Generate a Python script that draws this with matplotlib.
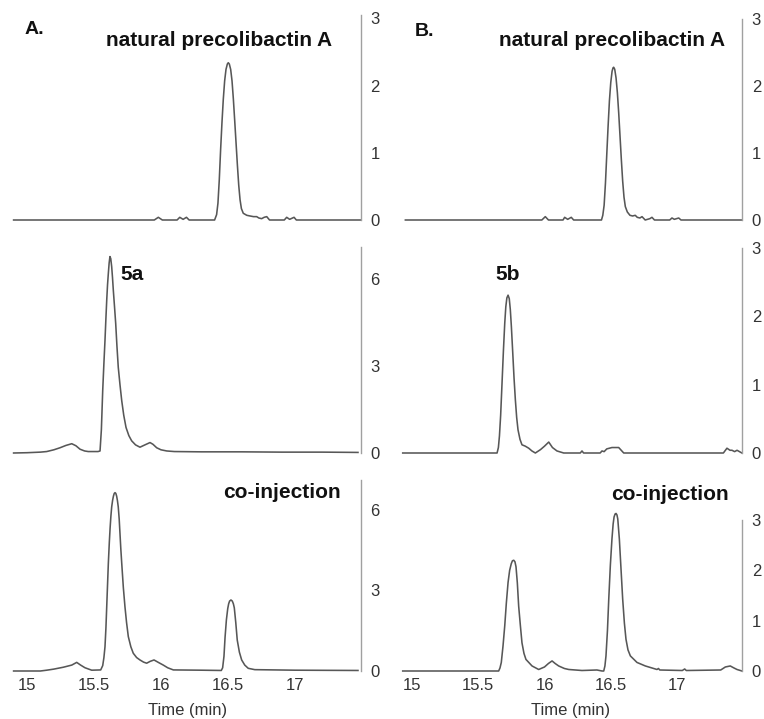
import matplotlib
matplotlib.use("Agg")
import matplotlib.pyplot as plt

plt.rcParams['font.family'] = ['Liberation Sans', 'DejaVu Sans']

# ---------------- data (time in min, signal) ----------------
t_A1 = [14.90, 15.90, 15.95, 15.98, 16.01, 16.12, 16.14, 16.165, 16.19, 16.21, 16.40, 16.415,
        16.425, 16.435, 16.445, 16.455, 16.465, 16.475, 16.485, 16.495, 16.502, 16.51, 16.52,
        16.53, 16.54, 16.55, 16.56, 16.57, 16.58, 16.59, 16.60, 16.614, 16.64, 16.664, 16.69,
        16.714, 16.73, 16.751, 16.77, 16.789, 16.81, 16.92, 16.938, 16.96, 16.993, 17.01, 17.49]
v_A1 = [0.0, 0.0, 0.0, 0.04, 0.0, 0.0, 0.04, 0.01, 0.04, 0.0, 0.0, 0.08,
        0.25, 0.6, 1.05, 1.45, 1.8, 2.07, 2.24, 2.32, 2.34, 2.32, 2.24,
        2.07, 1.8, 1.48, 1.15, 0.82, 0.52, 0.3, 0.17, 0.10, 0.07, 0.06, 0.05,
        0.05, 0.03, 0.02, 0.04, 0.05, 0.0, 0.0, 0.04, 0.01, 0.04, 0.0, 0.0]

t_B1 = [14.95, 15.98, 16.006, 16.03, 16.14, 16.152, 16.175, 16.202, 16.22, 16.43, 16.44,
        16.45, 16.46, 16.47, 16.48, 16.49, 16.50, 16.51, 16.517, 16.522, 16.53, 16.54, 16.55,
        16.56, 16.57, 16.58, 16.59, 16.60, 16.61, 16.625, 16.645, 16.665, 16.685, 16.70, 16.72,
        16.736, 16.76, 16.795, 16.811, 16.83, 16.945, 16.962, 16.98, 17.013, 17.03, 17.49]
v_B1 = [0.0, 0.0, 0.05, 0.0, 0.0, 0.04, 0.01, 0.04, 0.0, 0.0, 0.07,
        0.22, 0.55, 0.98, 1.4, 1.78, 2.05, 2.22, 2.27, 2.28, 2.25, 2.12, 1.9,
        1.6, 1.25, 0.9, 0.58, 0.34, 0.2, 0.12, 0.07, 0.06, 0.07, 0.04, 0.03,
        0.05, 0.0, 0.02, 0.04, 0.0, 0.0, 0.03, 0.01, 0.03, 0.0, 0.0]

t_A2 = [14.90, 15.00, 15.10, 15.147, 15.20, 15.246, 15.29, 15.334, 15.365, 15.396, 15.43,
        15.457, 15.50, 15.53, 15.545, 15.555, 15.565, 15.574, 15.582, 15.589, 15.595, 15.601,
        15.607, 15.613, 15.619, 15.625, 15.632, 15.638, 15.644, 15.653, 15.662, 15.671, 15.681,
        15.694, 15.707, 15.722, 15.739, 15.76, 15.781, 15.81, 15.843, 15.88, 15.918, 15.94,
        15.968, 16.0, 16.043, 16.10, 16.3, 16.6, 16.9, 17.2, 17.47]
v_A2 = [0.0, 0.01, 0.03, 0.05, 0.11, 0.18, 0.26, 0.32, 0.25, 0.13, 0.07,
        0.05, 0.05, 0.05, 0.07, 0.8, 2.15, 3.1, 3.88, 4.65, 5.27, 5.8,
        6.19, 6.55, 6.77, 6.7, 6.42, 6.05, 5.62, 5.05, 4.46, 3.7, 2.96,
        2.35, 1.80, 1.3, 0.88, 0.6, 0.42, 0.28, 0.2, 0.28, 0.36, 0.3,
        0.18, 0.11, 0.07, 0.05, 0.04, 0.04, 0.03, 0.03, 0.02]

t_B2 = [14.93, 15.63, 15.642, 15.652, 15.66, 15.669, 15.679, 15.69, 15.70, 15.708, 15.716,
        15.725, 15.734, 15.742, 15.75, 15.76, 15.77, 15.78, 15.79, 15.80, 15.815, 15.83,
        15.855, 15.881, 15.905, 15.931, 15.97, 16.0, 16.032, 16.06, 16.094, 16.145, 16.27,
        16.283, 16.295, 16.42, 16.434, 16.45, 16.47, 16.509, 16.56, 16.598, 17.35, 17.377,
        17.40, 17.415, 17.435, 17.453, 17.49]
v_B2 = [0.0, 0.0, 0.0, 0.08, 0.25, 0.55, 1.0, 1.5, 1.9, 2.14, 2.27,
        2.31, 2.26, 2.1, 1.85, 1.48, 1.1, 0.78, 0.52, 0.34, 0.2, 0.12,
        0.1, 0.07, 0.03, 0.0, 0.05, 0.1, 0.16, 0.08, 0.03, 0.0, 0.0,
        0.03, 0.0, 0.0, 0.03, 0.02, 0.06, 0.08, 0.08, 0.0, 0.0, 0.07,
        0.04, 0.04, 0.02, 0.04, 0.0]

t_A3 = [14.90, 15.10, 15.147, 15.20, 15.271, 15.334, 15.371, 15.40, 15.433, 15.483, 15.55,
        15.565, 15.574, 15.582, 15.589, 15.595, 15.601, 15.607, 15.614, 15.62, 15.626, 15.632,
        15.639, 15.645, 15.651, 15.657, 15.663, 15.669, 15.675, 15.681, 15.688, 15.694, 15.70,
        15.707, 15.719, 15.731, 15.743, 15.756, 15.775, 15.793, 15.818, 15.843, 15.87, 15.893,
        15.92, 15.948, 15.98, 16.017, 16.05, 16.092, 16.30, 16.45, 16.46, 16.47, 16.478,
        16.488, 16.498, 16.505, 16.512, 16.522, 16.532, 16.54, 16.547, 16.558, 16.569, 16.585,
        16.602, 16.625, 16.651, 16.70, 17.0, 17.47]
v_A3 = [0.0, 0.0, 0.03, 0.07, 0.14, 0.22, 0.32, 0.22, 0.12, 0.03, 0.04,
        0.2, 0.5, 0.9, 1.6, 2.4, 3.2, 4.0, 4.75, 5.3, 5.75, 6.1,
        6.35, 6.5, 6.6, 6.63, 6.6, 6.5, 6.33, 6.1, 5.65, 5.1, 4.55,
        4.0, 3.1, 2.39, 1.8, 1.28, 0.9, 0.66, 0.5, 0.41, 0.33, 0.29,
        0.36, 0.41, 0.32, 0.22, 0.12, 0.04, 0.03, 0.02, 0.12, 0.55, 1.25,
        1.9, 2.32, 2.5, 2.6, 2.64, 2.6, 2.5, 2.35, 1.8, 1.15, 0.7,
        0.41, 0.22, 0.1, 0.05, 0.03, 0.02]

t_B3 = [14.93, 15.64, 15.654, 15.664, 15.674, 15.687, 15.70, 15.712, 15.725, 15.737, 15.749,
        15.758, 15.768, 15.777, 15.785, 15.795, 15.805, 15.818, 15.83, 15.845, 15.86, 15.906,
        15.956, 16.0, 16.03, 16.057, 16.08, 16.107, 16.15, 16.183, 16.283, 16.396, 16.434,
        16.447, 16.456, 16.464, 16.475, 16.485, 16.497, 16.509, 16.518, 16.525, 16.533, 16.540,
        16.547, 16.553, 16.565, 16.578, 16.59, 16.603, 16.615, 16.63, 16.648, 16.698, 16.761,
        16.849, 16.86, 16.87, 17.04, 17.058, 17.07, 17.33, 17.365, 17.402, 17.43, 17.453, 17.49]
v_B3 = [0.0, 0.0, 0.0, 0.06, 0.17, 0.5, 0.9, 1.35, 1.76, 2.0, 2.13,
        2.19, 2.2, 2.17, 2.07, 1.75, 1.29, 0.9, 0.56, 0.35, 0.23, 0.1,
        0.03, 0.08, 0.15, 0.2, 0.15, 0.1, 0.05, 0.03, 0.01, 0.02, 0.0,
        0.0, 0.1, 0.3, 0.8, 1.43, 2.1, 2.62, 2.92, 3.06, 3.12, 3.13,
        3.1, 3.02, 2.62, 2.0, 1.43, 0.95, 0.63, 0.42, 0.3, 0.17, 0.1,
        0.03, 0.05, 0.02, 0.01, 0.04, 0.01, 0.02, 0.08, 0.1, 0.06, 0.03, 0.0]

x_ticks = [15, 15.5, 16, 16.5, 17]
x_tick_labels = ["15", "15.5", "16", "16.5", "17"]
panel_letters = ["A.", "B."]
top_labels = ["natural precolibactin A", "natural precolibactin A"]
mid_labels = ["5a", "5b"]
bottom_label = "co-injection"
x_label = "Time (min)"

# ---------------- layout ----------------
W, H = 764, 719
fig = plt.figure(figsize=(W / 100, H / 100), dpi=100)

LINE_C = "#575757"
SPINE_C = "#a0a0a0"
TEXT_C = "#333333"


def add_ax(left, right, top, bottom):
    return fig.add_axes([left / W, 1 - bottom / H, (right - left) / W, (bottom - top) / H])


def style(ax, t, v, ylim, yticks, bottom_row):
    ax.plot(t, v, color=LINE_C, lw=1.15, clip_on=False, solid_joinstyle="round")
    ax.set_xlim(14.9, 17.49)
    ax.set_ylim(*ylim)
    for s in ["top", "left", "bottom"]:
        ax.spines[s].set_visible(False)
    ax.spines["right"].set_color(SPINE_C)
    ax.spines["right"].set_linewidth(1.0)
    ax.yaxis.tick_right()
    ax.set_yticks(yticks)
    ax.set_yticklabels([str(y) for y in yticks])
    ax.tick_params(axis="y", length=0, pad=7, labelsize=12, labelcolor=TEXT_C)
    ax.patch.set_visible(False)
    if bottom_row:
        ax.set_xticks(x_ticks)
        ax.set_xticklabels(x_tick_labels)
        ax.tick_params(axis="x", length=0, pad=5, labelsize=12, labelcolor=TEXT_C)
        ax.set_xlabel(x_label, fontsize=12, color=TEXT_C, labelpad=7)
    else:
        ax.set_xticks([])


# column A (15 min -> px 27, 134 px/min), column B (15 -> 412, 132.5 px/min)
axA = dict(left=27 - 0.1 * 134, right=27 + 2.49 * 134)
axB = dict(left=412 - 0.1 * 132.5, right=412 + 2.49 * 132.5)

a1 = add_ax(axA["left"], axA["right"], 15, 220)
style(a1, t_A1, v_A1, (0, 3.05), [0, 1, 2, 3], False)
b1 = add_ax(axB["left"], axB["right"], 19, 220)
style(b1, t_B1, v_B1, (0, 3.0), [0, 1, 2, 3], False)

a2 = add_ax(axA["left"], axA["right"], 247, 453)
style(a2, t_A2, v_A2, (0, 7.1), [0, 3, 6], False)
b2 = add_ax(axB["left"], axB["right"], 248, 453)
style(b2, t_B2, v_B2, (0, 3.0), [0, 1, 2, 3], False)

a3 = add_ax(axA["left"], axA["right"], 480, 671)
style(a3, t_A3, v_A3, (0, 7.1), [0, 3, 6], True)
b3 = add_ax(axB["left"], axB["right"], 520, 671)
style(b3, t_B3, v_B3, (0, 3.0), [0, 1, 2, 3], True)


def ftext(x, y, s, ha="center", size=15, weight="bold"):
    fig.text(x / W, 1 - y / H, s, ha=ha, va="center", fontsize=size,
             fontweight=weight, color="#111111")


ftext(25, 30, panel_letters[0], ha="left", size=14)
ftext(415, 32, panel_letters[1], ha="left", size=14)
ftext(219, 40, top_labels[0])
ftext(612, 40, top_labels[1])
ftext(120, 275, mid_labels[0], ha="left")
ftext(508, 275, mid_labels[1])
ftext(282, 493, bottom_label)
ftext(670, 495, bottom_label)

fig.savefig("out.png", dpi=100)
